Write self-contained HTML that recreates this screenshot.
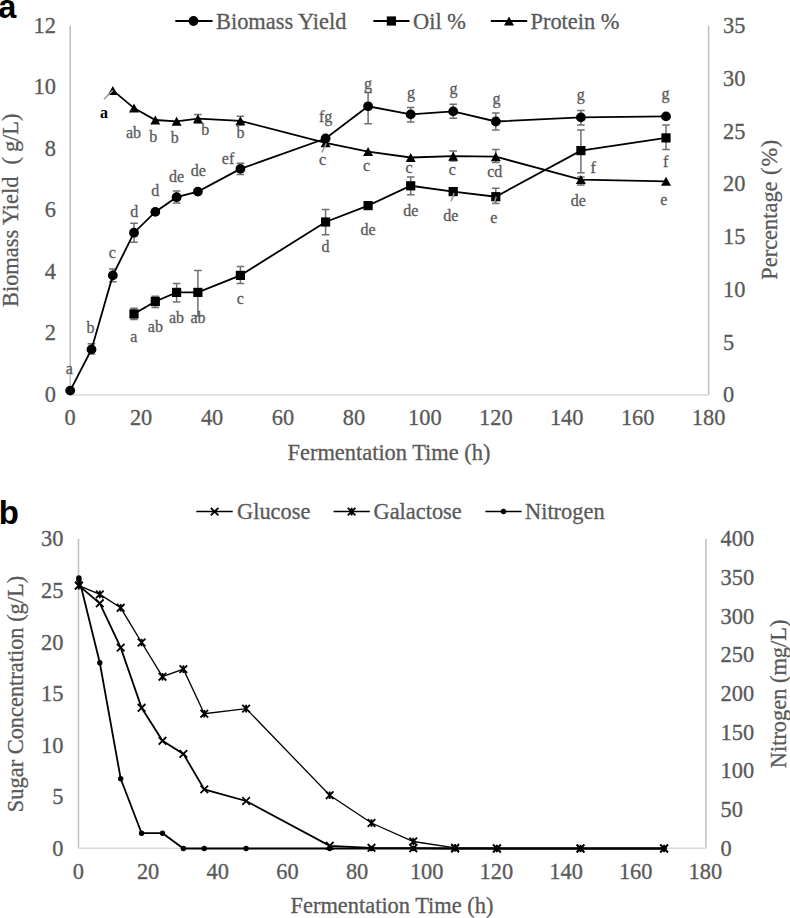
<!DOCTYPE html>
<html><head><meta charset="utf-8"><style>
html,body{margin:0;padding:0;background:#fff;}
svg{display:block;}
.t{font-family:"Liberation Serif", serif;font-size:22.4px;fill:#595959;stroke:#595959;stroke-width:0.3px;}
.l{font-family:"Liberation Serif", serif;font-size:16px;fill:#595959;stroke:#595959;stroke-width:0.3px;}
.lb{font-family:"Liberation Serif", serif;font-size:16px;font-weight:bold;fill:#000;}
.p{font-family:"Liberation Sans", sans-serif;font-weight:bold;font-size:33px;fill:#000;}
</style></head><body>
<svg width="790" height="918" viewBox="0 0 790 918">
<rect width="790" height="918" fill="#fff"/>
<line x1="70.2" y1="25.7" x2="70.2" y2="394.9" stroke="#bfbfbf" stroke-width="1.5"/>
<line x1="708.6" y1="25.7" x2="708.6" y2="394.9" stroke="#bfbfbf" stroke-width="1.5"/>
<line x1="70.2" y1="394.9" x2="708.6" y2="394.9" stroke="#d9d9d9" stroke-width="1.5"/>
<text x="56" y="401.9" text-anchor="end" class="t">0</text>
<text x="56" y="340.4" text-anchor="end" class="t">2</text>
<text x="56" y="278.8" text-anchor="end" class="t">4</text>
<text x="56" y="217.3" text-anchor="end" class="t">6</text>
<text x="56" y="155.8" text-anchor="end" class="t">8</text>
<text x="56" y="94.2" text-anchor="end" class="t">10</text>
<text x="56" y="32.7" text-anchor="end" class="t">12</text>
<text x="723" y="402.4" class="t">0</text>
<text x="723" y="349.7" class="t">5</text>
<text x="723" y="296.9" class="t">10</text>
<text x="723" y="244.2" class="t">15</text>
<text x="723" y="191.4" class="t">20</text>
<text x="723" y="138.7" class="t">25</text>
<text x="723" y="85.9" class="t">30</text>
<text x="723" y="33.2" class="t">35</text>
<text x="70.2" y="424.8" text-anchor="middle" class="t">0</text>
<text x="141.1" y="424.8" text-anchor="middle" class="t">20</text>
<text x="212.1" y="424.8" text-anchor="middle" class="t">40</text>
<text x="283.0" y="424.8" text-anchor="middle" class="t">60</text>
<text x="353.9" y="424.8" text-anchor="middle" class="t">80</text>
<text x="424.9" y="424.8" text-anchor="middle" class="t">100</text>
<text x="495.8" y="424.8" text-anchor="middle" class="t">120</text>
<text x="566.7" y="424.8" text-anchor="middle" class="t">140</text>
<text x="637.7" y="424.8" text-anchor="middle" class="t">160</text>
<text x="708.6" y="424.8" text-anchor="middle" class="t">180</text>
<text x="389" y="460" text-anchor="middle" class="t">Fermentation Time (h)</text>
<text transform="translate(17.9,307) rotate(-90)" class="t">Biomass Yield<tspan dx="12">(</tspan><tspan dx="5">g/L)</tspan></text>
<text transform="translate(776.8,279.7) rotate(-90)" class="t">Percentage <tspan dx="1">(</tspan><tspan dx="0.8">%</tspan><tspan dx="0.8">)</tspan></text>
<text x="-1.7" y="18.3" class="p" style="font-size:32.5px">a</text>
<path d="M87.7 343.8H95.3M91.5 343.8V353.9M87.7 353.9H95.3" stroke="#707070" stroke-width="1.5" fill="none"/>
<path d="M109.0 269H116.6M112.8 269V281.8M109.0 281.8H116.6" stroke="#707070" stroke-width="1.5" fill="none"/>
<path d="M130.2 223.3H137.8M134.0 223.3V242.3M130.2 242.3H137.8" stroke="#707070" stroke-width="1.5" fill="none"/>
<path d="M172.8 191.1H180.4M176.6 191.1V203M172.8 203H180.4" stroke="#707070" stroke-width="1.5" fill="none"/>
<path d="M236.6 163.3H244.2M240.4 163.3V174.4M236.6 174.4H244.2" stroke="#707070" stroke-width="1.5" fill="none"/>
<path d="M364.3 92.4H371.9M368.1 92.4V123.8M364.3 123.8H371.9" stroke="#707070" stroke-width="1.5" fill="none"/>
<path d="M406.9 107.6H414.5M410.7 107.6V122M406.9 122H414.5" stroke="#707070" stroke-width="1.5" fill="none"/>
<path d="M449.4 104.3H457.0M453.2 104.3V118.2M449.4 118.2H457.0" stroke="#707070" stroke-width="1.5" fill="none"/>
<path d="M492.0 113H499.6M495.8 113V130M492.0 130H499.6" stroke="#707070" stroke-width="1.5" fill="none"/>
<path d="M577.1 110.6H584.7M580.9 110.6V125M577.1 125H584.7" stroke="#707070" stroke-width="1.5" fill="none"/>
<path d="M130.2 308.2H137.8M134.0 308.2V319.4M130.2 319.4H137.8" stroke="#707070" stroke-width="1.5" fill="none"/>
<path d="M151.5 296.2H159.1M155.3 296.2V307.6M151.5 307.6H159.1" stroke="#707070" stroke-width="1.5" fill="none"/>
<path d="M172.8 283.5H180.4M176.6 283.5V302M172.8 302H180.4" stroke="#707070" stroke-width="1.5" fill="none"/>
<path d="M194.1 270.4H201.7M197.9 270.4V316M194.1 316H201.7" stroke="#707070" stroke-width="1.5" fill="none"/>
<path d="M236.6 266.6H244.2M240.4 266.6V283.5M236.6 283.5H244.2" stroke="#707070" stroke-width="1.5" fill="none"/>
<path d="M321.8 209.4H329.4M325.6 209.4V234.7M321.8 234.7H329.4" stroke="#707070" stroke-width="1.5" fill="none"/>
<path d="M406.9 177H414.5M410.7 177V194.7M406.9 194.7H414.5" stroke="#707070" stroke-width="1.5" fill="none"/>
<path d="M492.0 188.2H499.6M495.8 188.2V203.5M492.0 203.5H499.6" stroke="#707070" stroke-width="1.5" fill="none"/>
<path d="M577.1 130H584.7M580.9 130V172.8M577.1 172.8H584.7" stroke="#707070" stroke-width="1.5" fill="none"/>
<path d="M662.2 125H669.8M666.0 125V149.5M662.2 149.5H669.8" stroke="#707070" stroke-width="1.5" fill="none"/>
<path d="M194.1 114.4H201.7M197.9 114.4V123M194.1 123H201.7" stroke="#707070" stroke-width="1.5" fill="none"/>
<path d="M236.6 116.2H244.2M240.4 116.2V125M236.6 125H244.2" stroke="#707070" stroke-width="1.5" fill="none"/>
<path d="M449.4 151.1H457.0M453.2 151.1V161M449.4 161H457.0" stroke="#707070" stroke-width="1.5" fill="none"/>
<path d="M492.0 149.5H499.6M495.8 149.5V162.5M492.0 162.5H499.6" stroke="#707070" stroke-width="1.5" fill="none"/>
<path d="M577.1 177H584.7M580.9 177V185M577.1 185H584.7" stroke="#707070" stroke-width="1.5" fill="none"/>
<polyline points="70.2,390.6 91.5,349.4 112.8,275.4 134.0,232.7 155.3,211.9 176.6,197.2 197.9,191.6 240.4,168.9 325.6,138.5 368.1,106.3 410.7,114.4 453.2,111.4 495.8,121.5 580.9,117.4 666.0,116.4" fill="none" stroke="#000" stroke-width="1.8"/>
<polyline points="134.0,313.9 155.3,301.5 176.6,292.4 197.9,292.4 240.4,275.4 325.6,222 368.1,205.6 410.7,185.8 453.2,191.6 495.8,196.7 580.9,150.6 666.0,137.9" fill="none" stroke="#000" stroke-width="1.8"/>
<polyline points="112.8,90.4 134.0,108.1 155.3,120 176.6,121.3 197.9,118.7 240.4,120.8 325.6,142.8 368.1,151.6 410.7,157.5 453.2,156.2 495.8,156.7 580.9,179.6 666.0,181.3" fill="none" stroke="#000" stroke-width="1.8"/>
<circle cx="70.2" cy="390.6" r="4.9"/>
<circle cx="91.5" cy="349.4" r="4.9"/>
<circle cx="112.8" cy="275.4" r="4.9"/>
<circle cx="134.0" cy="232.7" r="4.9"/>
<circle cx="155.3" cy="211.9" r="4.9"/>
<circle cx="176.6" cy="197.2" r="4.9"/>
<circle cx="197.9" cy="191.6" r="4.9"/>
<circle cx="240.4" cy="168.9" r="4.9"/>
<circle cx="325.6" cy="138.5" r="4.9"/>
<circle cx="368.1" cy="106.3" r="4.9"/>
<circle cx="410.7" cy="114.4" r="4.9"/>
<circle cx="453.2" cy="111.4" r="4.9"/>
<circle cx="495.8" cy="121.5" r="4.9"/>
<circle cx="580.9" cy="117.4" r="4.9"/>
<circle cx="666.0" cy="116.4" r="4.9"/>
<rect x="129.4" y="309.3" width="9.2" height="9.2"/>
<rect x="150.7" y="296.9" width="9.2" height="9.2"/>
<rect x="172.0" y="287.8" width="9.2" height="9.2"/>
<rect x="193.3" y="287.8" width="9.2" height="9.2"/>
<rect x="235.8" y="270.8" width="9.2" height="9.2"/>
<rect x="321.0" y="217.4" width="9.2" height="9.2"/>
<rect x="363.5" y="201.0" width="9.2" height="9.2"/>
<rect x="406.1" y="181.2" width="9.2" height="9.2"/>
<rect x="448.6" y="187.0" width="9.2" height="9.2"/>
<rect x="491.2" y="192.1" width="9.2" height="9.2"/>
<rect x="576.3" y="146.0" width="9.2" height="9.2"/>
<rect x="661.4" y="133.3" width="9.2" height="9.2"/>
<path d="M112.8 85.9L117.8 94.9L107.8 94.9Z"/>
<path d="M134.0 103.6L139.0 112.6L129.0 112.6Z"/>
<path d="M155.3 115.5L160.3 124.5L150.3 124.5Z"/>
<path d="M176.6 116.8L181.6 125.8L171.6 125.8Z"/>
<path d="M197.9 114.2L202.9 123.2L192.9 123.2Z"/>
<path d="M240.4 116.3L245.4 125.3L235.4 125.3Z"/>
<path d="M325.6 138.3L330.6 147.3L320.6 147.3Z"/>
<path d="M368.1 147.1L373.1 156.1L363.1 156.1Z"/>
<path d="M410.7 153.0L415.7 162.0L405.7 162.0Z"/>
<path d="M453.2 151.7L458.2 160.7L448.2 160.7Z"/>
<path d="M495.8 152.2L500.8 161.2L490.8 161.2Z"/>
<path d="M580.9 175.1L585.9 184.1L575.9 184.1Z"/>
<path d="M666.0 176.8L671.0 185.8L661.0 185.8Z"/>
<line x1="103.9" y1="99.2" x2="112.8" y2="90.4" stroke="#999" stroke-width="1.5"/>
<line x1="321.8" y1="152.4" x2="326.3" y2="143.5" stroke="#999" stroke-width="1.5"/>
<line x1="451.1" y1="201.3" x2="454.2" y2="192.9" stroke="#999" stroke-width="1.5"/>
<line x1="494.0" y1="203.9" x2="496.2" y2="196.6" stroke="#999" stroke-width="1.5"/>
<text x="69.4" y="373.7" text-anchor="middle" class="l">a</text>
<text x="90.4" y="332.8" text-anchor="middle" class="l">b</text>
<text x="112.4" y="257.6" text-anchor="middle" class="l">c</text>
<text x="134.3" y="216.9" text-anchor="middle" class="l">d</text>
<text x="155.3" y="195.9" text-anchor="middle" class="l">d</text>
<text x="176.6" y="181.5" text-anchor="middle" class="l">de</text>
<text x="198.4" y="176.4" text-anchor="middle" class="l">de</text>
<text x="228.0" y="163.8" text-anchor="middle" class="l">ef</text>
<text x="325.6" y="122.1" text-anchor="middle" class="l">fg</text>
<text x="368.1" y="88.9" text-anchor="middle" class="l">g</text>
<text x="410.9" y="97.8" text-anchor="middle" class="l">g</text>
<text x="453.4" y="94.0" text-anchor="middle" class="l">g</text>
<text x="496.4" y="104.1" text-anchor="middle" class="l">g</text>
<text x="580.8" y="100.0" text-anchor="middle" class="l">g</text>
<text x="665.6" y="99.3" text-anchor="middle" class="l">g</text>
<text x="133.9" y="341.9" text-anchor="middle" class="l">a</text>
<text x="155.4" y="331.5" text-anchor="middle" class="l">ab</text>
<text x="176.5" y="322.7" text-anchor="middle" class="l">ab</text>
<text x="198.0" y="322.7" text-anchor="middle" class="l">ab</text>
<text x="240.3" y="303.7" text-anchor="middle" class="l">c</text>
<text x="325.6" y="251.5" text-anchor="middle" class="l">d</text>
<text x="368.1" y="235.1" text-anchor="middle" class="l">de</text>
<text x="410.9" y="216.1" text-anchor="middle" class="l">de</text>
<text x="450.9" y="220.5" text-anchor="middle" class="l">de</text>
<text x="493.7" y="222.6" text-anchor="middle" class="l">e</text>
<text x="593.1" y="173.3" text-anchor="middle" class="l">f</text>
<text x="665.6" y="167.4" text-anchor="middle" class="l">f</text>
<text x="133.5" y="138.2" text-anchor="middle" class="l">ab</text>
<text x="153.3" y="141.5" text-anchor="middle" class="l">b</text>
<text x="174.8" y="142.7" text-anchor="middle" class="l">b</text>
<text x="205.2" y="135.1" text-anchor="middle" class="l">b</text>
<text x="240.6" y="137.7" text-anchor="middle" class="l">b</text>
<text x="322.5" y="165.0" text-anchor="middle" class="l">c</text>
<text x="366.6" y="171.3" text-anchor="middle" class="l">c</text>
<text x="409.1" y="173.1" text-anchor="middle" class="l">c</text>
<text x="452.2" y="175.1" text-anchor="middle" class="l">c</text>
<text x="494.7" y="176.5" text-anchor="middle" class="l">cd</text>
<text x="578.4" y="205.6" text-anchor="middle" class="l">de</text>
<text x="663.9" y="204.5" text-anchor="middle" class="l">e</text>
<text x="103.9" y="117.6" text-anchor="middle" class="lb">a</text>
<line x1="175.3" y1="21" x2="212.5" y2="21" stroke="#000" stroke-width="2"/>
<circle cx="193.5" cy="21" r="4.9"/>
<text x="216" y="28.5" class="t">Biomass Yield</text>
<line x1="373.4" y1="21" x2="409.5" y2="21" stroke="#000" stroke-width="2"/>
<rect x="386.8" y="16.4" width="9.2" height="9.2"/>
<text x="413" y="28.5" class="t">Oil %</text>
<line x1="490.8" y1="21" x2="527.2" y2="21" stroke="#000" stroke-width="2"/>
<path d="M509.0 16.5L514.0 25.5L504.0 25.5Z"/>
<text x="530.5" y="28.5" class="t">Protein %</text>
<line x1="78.5" y1="538.8" x2="78.5" y2="848.3" stroke="#bfbfbf" stroke-width="1.5"/>
<line x1="705.9" y1="538.8" x2="705.9" y2="848.3" stroke="#bfbfbf" stroke-width="1.5"/>
<line x1="78.9" y1="848.3" x2="705.9" y2="848.3" stroke="#d9d9d9" stroke-width="1.5"/>
<text x="63.5" y="855.8" text-anchor="end" class="t">0</text>
<text x="63.5" y="804.2" text-anchor="end" class="t">5</text>
<text x="63.5" y="752.6" text-anchor="end" class="t">10</text>
<text x="63.5" y="701.0" text-anchor="end" class="t">15</text>
<text x="63.5" y="649.5" text-anchor="end" class="t">20</text>
<text x="63.5" y="597.9" text-anchor="end" class="t">25</text>
<text x="63.5" y="546.3" text-anchor="end" class="t">30</text>
<text x="720.5" y="855.8" class="t">0</text>
<text x="720.5" y="817.1" class="t">50</text>
<text x="720.5" y="778.4" class="t">100</text>
<text x="720.5" y="739.7" class="t">150</text>
<text x="720.5" y="701.0" class="t">200</text>
<text x="720.5" y="662.4" class="t">250</text>
<text x="720.5" y="623.7" class="t">300</text>
<text x="720.5" y="585.0" class="t">350</text>
<text x="720.5" y="546.3" class="t">400</text>
<text x="78.4" y="879" text-anchor="middle" class="t">0</text>
<text x="148.1" y="879" text-anchor="middle" class="t">20</text>
<text x="217.7" y="879" text-anchor="middle" class="t">40</text>
<text x="287.4" y="879" text-anchor="middle" class="t">60</text>
<text x="357.1" y="879" text-anchor="middle" class="t">80</text>
<text x="426.7" y="879" text-anchor="middle" class="t">100</text>
<text x="496.4" y="879" text-anchor="middle" class="t">120</text>
<text x="566.1" y="879" text-anchor="middle" class="t">140</text>
<text x="635.7" y="879" text-anchor="middle" class="t">160</text>
<text x="705.4" y="879" text-anchor="middle" class="t">180</text>
<text x="392" y="913" text-anchor="middle" class="t">Fermentation Time (h)</text>
<text transform="translate(22.6,694) rotate(-90)" text-anchor="middle" class="t">Sugar Concentration (g/L)</text>
<text transform="translate(785.6,693.9) rotate(-90)" text-anchor="middle" class="t">Nitrogen (mg/L)</text>
<text x="-1.2" y="523.5" class="p">b</text>
<polyline points="78.9,578 99.8,662.8 120.7,778.7 141.6,833.2 162.5,833.2 183.4,848.5 204.3,848.5 246.1,848.5 329.7,848.5 371.5,848.5 413.3,848.5 455.1,848.5 496.9,848.5 580.5,848.5 664.1,848.5" fill="none" stroke="#000" stroke-width="1.8"/>
<polyline points="78.9,585.6 99.8,603.3 120.7,647.6 141.6,707.8 162.5,740.8 183.4,753.9 204.3,789.4 246.1,801 329.7,845.8 371.5,847.8 413.3,848.2 455.1,848.5 496.9,848.5 580.5,848.5 664.1,848.5" fill="none" stroke="#000" stroke-width="1.8"/>
<polyline points="78.9,585.6 99.8,594.4 120.7,607.8 141.6,642.5 162.5,676.7 183.4,669.1 204.3,713.7 246.1,708.6 329.7,795.2 371.5,823 413.3,841.5 455.1,847.8 496.9,848.5 580.5,848.5 664.1,848.5" fill="none" stroke="#000" stroke-width="1.3"/>
<circle cx="78.9" cy="578" r="2.7"/>
<circle cx="99.8" cy="662.8" r="2.7"/>
<circle cx="120.7" cy="778.7" r="2.7"/>
<circle cx="141.6" cy="833.2" r="2.7"/>
<circle cx="162.5" cy="833.2" r="2.7"/>
<circle cx="183.4" cy="848.5" r="2.7"/>
<circle cx="204.3" cy="848.5" r="2.7"/>
<circle cx="246.1" cy="848.5" r="2.7"/>
<circle cx="329.7" cy="848.5" r="2.7"/>
<circle cx="371.5" cy="848.5" r="2.7"/>
<circle cx="413.3" cy="848.5" r="2.7"/>
<circle cx="455.1" cy="848.5" r="2.7"/>
<circle cx="496.9" cy="848.5" r="2.7"/>
<circle cx="580.5" cy="848.5" r="2.7"/>
<circle cx="664.1" cy="848.5" r="2.7"/>
<circle cx="78.9" cy="580.2" r="2.7"/>
<path d="M75.1 581.8L82.7 589.4M75.1 589.4L82.7 581.8" stroke="#000" stroke-width="1.8"/>
<path d="M96.0 599.5L103.6 607.1M96.0 607.1L103.6 599.5" stroke="#000" stroke-width="1.8"/>
<path d="M116.9 643.8L124.5 651.4M116.9 651.4L124.5 643.8" stroke="#000" stroke-width="1.8"/>
<path d="M137.8 704.0L145.4 711.6M137.8 711.6L145.4 704.0" stroke="#000" stroke-width="1.8"/>
<path d="M158.7 737.0L166.3 744.6M158.7 744.6L166.3 737.0" stroke="#000" stroke-width="1.8"/>
<path d="M179.6 750.1L187.2 757.7M179.6 757.7L187.2 750.1" stroke="#000" stroke-width="1.8"/>
<path d="M200.5 785.6L208.1 793.2M200.5 793.2L208.1 785.6" stroke="#000" stroke-width="1.8"/>
<path d="M242.3 797.2L249.9 804.8M242.3 804.8L249.9 797.2" stroke="#000" stroke-width="1.8"/>
<path d="M325.9 842.0L333.5 849.6M325.9 849.6L333.5 842.0" stroke="#000" stroke-width="1.8"/>
<path d="M367.7 844.0L375.3 851.6M367.7 851.6L375.3 844.0" stroke="#000" stroke-width="1.8"/>
<path d="M409.5 844.4L417.1 852.0M409.5 852.0L417.1 844.4" stroke="#000" stroke-width="1.8"/>
<path d="M451.3 844.7L458.9 852.3M451.3 852.3L458.9 844.7" stroke="#000" stroke-width="1.8"/>
<path d="M493.1 844.7L500.7 852.3M493.1 852.3L500.7 844.7" stroke="#000" stroke-width="1.8"/>
<path d="M576.7 844.7L584.3 852.3M576.7 852.3L584.3 844.7" stroke="#000" stroke-width="1.8"/>
<path d="M660.3 844.7L667.9 852.3M660.3 852.3L667.9 844.7" stroke="#000" stroke-width="1.8"/>
<path d="M75.1 581.8L82.7 589.4M75.1 589.4L82.7 581.8M78.9 581.8V589.4" stroke="#000" stroke-width="1.8"/>
<path d="M96.0 590.6L103.6 598.2M96.0 598.2L103.6 590.6M99.8 590.6V598.2" stroke="#000" stroke-width="1.8"/>
<path d="M116.9 604.0L124.5 611.6M116.9 611.6L124.5 604.0M120.7 604.0V611.6" stroke="#000" stroke-width="1.8"/>
<path d="M137.8 638.7L145.4 646.3M137.8 646.3L145.4 638.7M141.6 638.7V646.3" stroke="#000" stroke-width="1.8"/>
<path d="M158.7 672.9L166.3 680.5M158.7 680.5L166.3 672.9M162.5 672.9V680.5" stroke="#000" stroke-width="1.8"/>
<path d="M179.6 665.3L187.2 672.9M179.6 672.9L187.2 665.3M183.4 665.3V672.9" stroke="#000" stroke-width="1.8"/>
<path d="M200.5 709.9L208.1 717.5M200.5 717.5L208.1 709.9M204.3 709.9V717.5" stroke="#000" stroke-width="1.8"/>
<path d="M242.3 704.8L249.9 712.4M242.3 712.4L249.9 704.8M246.1 704.8V712.4" stroke="#000" stroke-width="1.8"/>
<path d="M325.9 791.4L333.5 799.0M325.9 799.0L333.5 791.4M329.7 791.4V799.0" stroke="#000" stroke-width="1.8"/>
<path d="M367.7 819.2L375.3 826.8M367.7 826.8L375.3 819.2M371.5 819.2V826.8" stroke="#000" stroke-width="1.8"/>
<path d="M409.5 837.7L417.1 845.3M409.5 845.3L417.1 837.7M413.3 837.7V845.3" stroke="#000" stroke-width="1.8"/>
<path d="M451.3 844.0L458.9 851.6M451.3 851.6L458.9 844.0M455.1 844.0V851.6" stroke="#000" stroke-width="1.8"/>
<path d="M493.1 844.7L500.7 852.3M493.1 852.3L500.7 844.7M496.9 844.7V852.3" stroke="#000" stroke-width="1.8"/>
<path d="M576.7 844.7L584.3 852.3M576.7 852.3L584.3 844.7M580.5 844.7V852.3" stroke="#000" stroke-width="1.8"/>
<path d="M660.3 844.7L667.9 852.3M660.3 852.3L667.9 844.7M664.1 844.7V852.3" stroke="#000" stroke-width="1.8"/>
<line x1="196.3" y1="511.5" x2="232.7" y2="511.5" stroke="#000" stroke-width="1.6"/>
<path d="M210.8 507.8L218.4 515.4M210.8 515.4L218.4 507.8" stroke="#000" stroke-width="1.8"/>
<text x="237" y="518.7" class="t">Glucose</text>
<line x1="333.6" y1="511.5" x2="369.8" y2="511.5" stroke="#000" stroke-width="1.6"/>
<path d="M347.8 507.8L355.4 515.4M347.8 515.4L355.4 507.8M351.6 507.8V515.4" stroke="#000" stroke-width="1.8"/>
<text x="373.5" y="518.7" class="t">Galactose</text>
<line x1="485.4" y1="511.5" x2="521.6" y2="511.5" stroke="#000" stroke-width="1.6"/>
<circle cx="503.5" cy="511.5" r="2.7"/>
<text x="525" y="518.7" class="t">Nitrogen</text>
</svg>
</body></html>
